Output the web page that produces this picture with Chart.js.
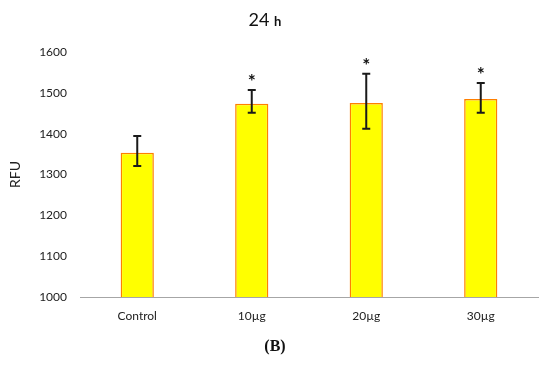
<!DOCTYPE html>
<html>
<head>
<meta charset="utf-8">
<script src="https://cdn.jsdelivr.net/npm/chart.js@4/dist/chart.umd.min.js"></script>
<style>
  html, body { margin: 0; padding: 0; background: #fff; }
  #wrap { position: relative; width: 550px; height: 367px; }
  #caption {
    position: absolute; left: 0; width: 550px; top: 337px;
    text-align: center; font: bold 16px "Liberation Serif", serif; color: #111;
  }
</style>
</head>
<body>
<div id="wrap">
  <canvas id="chart" width="550" height="367"></canvas>
  <div id="caption">(B)</div>
</div>
<script>
const categories = ['Control', '10\u00b5g', '20\u00b5g', '30\u00b5g'];
const rfu = [1353, 1473, 1475, 1485];
const errLow = [1321, 1451, 1412, 1451];
const errHigh = [1394, 1507, 1547, 1524];
const significant = [false, true, true, true];
const yTicks = [1000, 1100, 1200, 1300, 1400, 1500, 1600];

const FONT = 'Lato, "Open Sans", sans-serif';

// error bars + asterisks + title
const extras = {
  id: 'extras',
  afterDatasetsDraw(chart) {
    const ctx = chart.ctx;
    const meta = chart.getDatasetMeta(0);
    const y = chart.scales.y;
    ctx.save();
    ctx.strokeStyle = '#1a1a1a';
    ctx.lineWidth = 2;
    meta.data.forEach((bar, i) => {
      const x = bar.x;
      const top = y.getPixelForValue(errHigh[i]);
      const bot = y.getPixelForValue(errLow[i]);
      ctx.beginPath();
      ctx.moveTo(x, top); ctx.lineTo(x, bot);
      ctx.moveTo(x - 4, top); ctx.lineTo(x + 4, top);
      ctx.moveTo(x - 4, bot); ctx.lineTo(x + 4, bot);
      ctx.stroke();
      if (significant[i]) {
        ctx.fillStyle = '#111';
        ctx.font = 'bold 19px ' + FONT;
        ctx.textAlign = 'center';
        ctx.textBaseline = 'middle';
        ctx.fillText('*', x, top - 8);
      }
    });
    // title "24 h"
    ctx.fillStyle = '#111';
    ctx.textBaseline = 'alphabetic';
    ctx.textAlign = 'left';
    ctx.font = '18px ' + FONT;
    const w1 = ctx.measureText('24 ').width;
    ctx.font = 'bold 13px ' + FONT;
    const w2 = ctx.measureText('h').width;
    const x0 = 265 - (w1 + w2) / 2;
    ctx.font = '18px ' + FONT;
    ctx.fillText('24 ', x0, 26);
    ctx.font = 'bold 13px ' + FONT;
    ctx.fillText('h', x0 + w1, 26);
    ctx.restore();
  }
};

new Chart(document.getElementById('chart'), {
  type: 'bar',
  data: {
    labels: categories,
    datasets: [{
      data: rfu,
      backgroundColor: '#FFFF00',
      borderColor: '#FF7F00',
      borderWidth: 1.5,
      borderSkipped: false,
      barPercentage: 0.29,
      categoryPercentage: 1.0
    }]
  },
  options: {
    responsive: false,
    animation: false,
    layout: { padding: { top: 52, right: 12, left: 0, bottom: 0 } },
    plugins: { legend: { display: false }, tooltip: { enabled: false } },
    scales: {
      x: {
        grid: { display: false, drawTicks: false },
        border: { display: true, color: '#A6A6A6', width: 1 },
        ticks: { color: '#222', font: { family: FONT, size: 12 }, padding: 12 },
        afterFit(scale) { scale.height = 70; }
      },
      y: {
        min: 1000, max: 1600,
        afterBuildTicks(scale) { scale.ticks = yTicks.map(v => ({ value: v })); },
        grid: { display: false, drawTicks: false },
        border: { display: false },
        ticks: { color: '#222', font: { family: FONT, size: 12 }, padding: 13, callback: v => String(v) },
        title: { display: true, text: 'RFU', color: '#222', font: { family: FONT, size: 14 }, padding: { top: 7, bottom: 0 } },
        afterFit(scale) { scale.width = 80; }
      }
    }
  },
  plugins: [extras]
});
</script>
</body>
</html>
